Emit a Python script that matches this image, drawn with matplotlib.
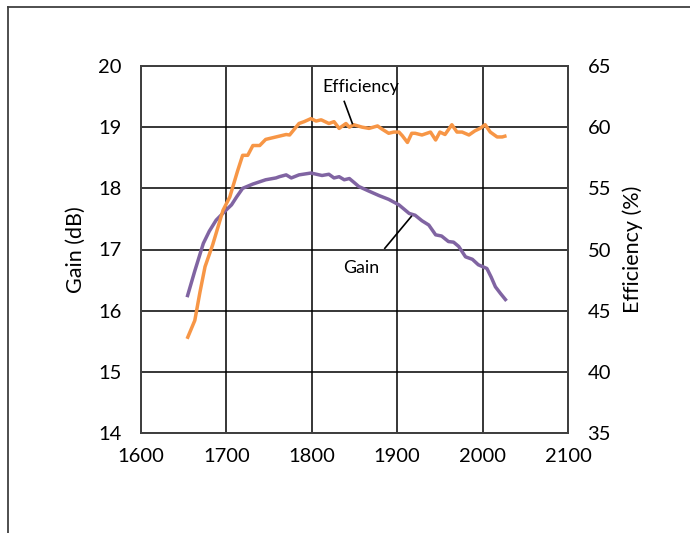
import matplotlib.pyplot as plt
from matplotlib.lines import Line2D

plt.rcParams['font.family'] = ['Lato', 'DejaVu Sans']

# gain curve (left axis)
freq_gain = [1654, 1663, 1673, 1680, 1688, 1700, 1706, 1712, 1719, 1731, 1746, 1758, 1762,
             1770, 1776, 1785, 1799, 1812, 1820, 1826, 1832, 1838, 1844, 1850, 1855,
             1866, 1879, 1890, 1902, 1908, 1914, 1921, 1929, 1937, 1945, 1952, 1960,
             1966, 1972, 1980, 1988, 1995, 2005, 2010, 2015, 2021, 2028]
gain = [16.22, 16.65, 17.10, 17.30, 17.48, 17.65, 17.73, 17.86, 18.00, 18.07, 18.14, 18.17, 18.19,
        18.22, 18.17, 18.22, 18.25, 18.21, 18.23, 18.17, 18.19, 18.14, 18.16, 18.09, 18.03,
        17.96, 17.88, 17.82, 17.73, 17.66, 17.59, 17.56, 17.47, 17.40, 17.24, 17.22, 17.13,
        17.12, 17.05, 16.88, 16.84, 16.75, 16.69, 16.55, 16.39, 16.28, 16.16]

# efficiency curve (right axis)
freq_eff = [1654, 1663, 1669, 1675, 1684, 1690, 1696, 1704, 1713, 1719, 1725, 1731, 1739,
            1746, 1758, 1770, 1774, 1785, 1791, 1799, 1805, 1811, 1820, 1826, 1832,
            1840, 1844, 1849, 1859, 1867, 1877, 1882, 1890, 1896, 1902, 1906, 1912,
            1917, 1921, 1929, 1939, 1945, 1950, 1956, 1964, 1970, 1976, 1984, 1991,
            1997, 2003, 2009, 2017, 2023, 2028]
eff = [42.7, 44.2, 46.5, 48.6, 50.4, 51.8, 53.2, 54.3, 56.4, 57.7, 57.7, 58.5, 58.5,
       59.0, 59.2, 59.4, 59.36, 60.3, 60.45, 60.7, 60.5, 60.6, 60.3, 60.45, 59.9,
       60.3, 60.0, 60.2, 60.0, 59.9, 60.1, 59.85, 59.5, 59.6, 59.6, 59.3, 58.75,
       59.5, 59.5, 59.36, 59.6, 58.95, 59.6, 59.4, 60.2, 59.6, 59.6, 59.36, 59.7,
       59.9, 60.2, 59.6, 59.2, 59.2, 59.3]

fig = plt.figure(figsize=(6.9, 5.33), dpi=100)
ax = fig.add_axes([141 / 690, 1 - 433 / 533, 427 / 690, 367 / 533])
ax2 = ax.twinx()

ax.set_xlim(1600, 2100)
ax.set_ylim(14, 20)
ax2.set_ylim(35, 65)
ax.set_xticks(range(1600, 2101, 100))
ax.set_yticks(range(14, 21))
ax2.set_yticks(range(35, 66, 5))

ax.grid(True, color='black', linewidth=1.1)
ax.set_axisbelow(True)

ax.plot(freq_gain, gain, color='#8064A2', linewidth=2.5, solid_capstyle='butt')
ax2.plot(freq_eff, eff, color='#F79646', linewidth=2.5, solid_capstyle='butt')

for a in (ax, ax2):
    a.tick_params(length=0, labelsize=14.5, pad=14)
    for s in a.spines.values():
        s.set_color('#404040')
        s.set_linewidth(1.3)
ax.tick_params(axis='x', pad=11)

ax.set_ylabel('Gain (dB)', fontsize=15.5, labelpad=9)
ax2.set_ylabel('Efficiency (%)', fontsize=15.5, labelpad=8)

# annotations
ax2.text(1857, 63.3, 'Efficiency', fontsize=12.8, ha='center', va='center')
ax2.plot([1838, 1847.5], [62.1, 60.3], color='black', linewidth=1.2)
ax.text(1858, 16.70, 'Gain', fontsize=12.8, ha='center', va='center')
ax.plot([1885.5, 1916.5], [17.02, 17.54], color='black', linewidth=1.2)

# outer frame (only partly visible)
fig.add_artist(Line2D([8 / 690, 8 / 690], [0, 1 - 7 / 533], transform=fig.transFigure,
                      color='#404040', linewidth=1.3))
fig.add_artist(Line2D([8 / 690, 1], [1 - 7 / 533, 1 - 7 / 533], transform=fig.transFigure,
                      color='#404040', linewidth=1.3))

fig.savefig('out.png', dpi=100)
